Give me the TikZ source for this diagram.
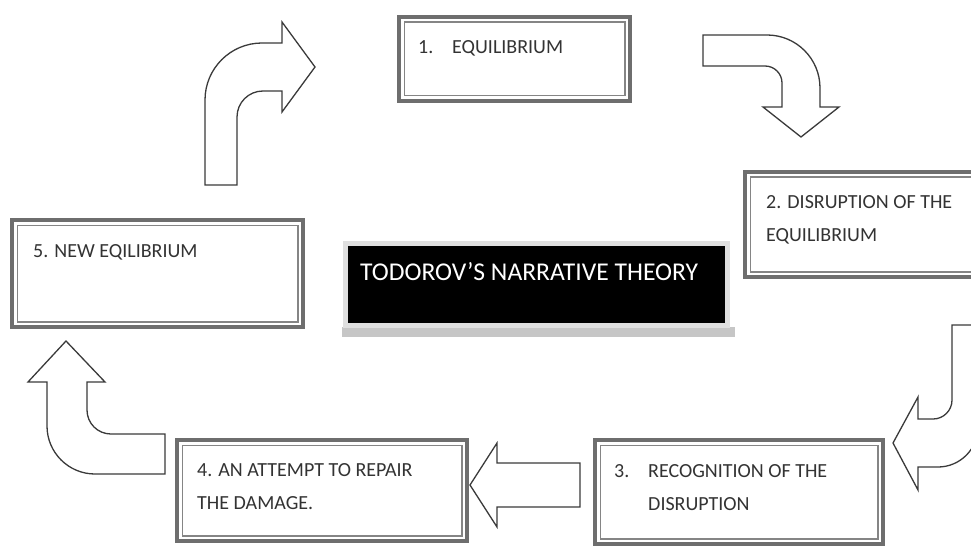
\documentclass[tikz,border=0pt]{standalone}
\usepackage{fontspec}
\setmainfont{Carlito}
\usepackage{tikz}
\usetikzlibrary{positioning}

\definecolor{framegray}{HTML}{6E6E6E}
\definecolor{linegray}{HTML}{858585}
\definecolor{arrowline}{HTML}{3A3A3A}

\begin{document}
\begin{tikzpicture}[
    x=1pt, y=-1pt,
    stagebox/.style={rectangle, draw=linegray, line width=1.5pt, fill=white,
                     inner sep=0pt, outer sep=0pt, anchor=north west},
    frame/.style={draw=framegray, line width=4pt},
    stagetext/.style={anchor=base west, inner sep=0pt, align=left,
                      text=black!80, font=\fontsize{20}{33}\selectfont},
    titlebox/.style={rectangle, fill=black, draw=gray!25, line width=5pt,
                     inner sep=0pt, outer sep=0pt, anchor=north west},
    titletext/.style={anchor=base west, inner sep=0pt, text=white,
                      font=\fontsize{25.6}{30}\selectfont},
    blockarrow/.style={draw=arrowline, line width=1.3pt, fill=white, line join=miter}
]
\useasboundingbox (0,0) rectangle (971,548);

% stage boxes
\node[stagebox, minimum width=220.5pt, minimum height=73.5pt] (s1) at (404.25,22.25) {};
\node[stagebox, minimum width=232.5pt, minimum height=94.5pt] (s2) at (750.25,177.25) {};
\node[stagebox, minimum width=277.5pt, minimum height=93.5pt] (s3) at (600.25,445.25) {};
\node[stagebox, minimum width=279.5pt, minimum height=90.5pt] (s4) at (182.25,445.25) {};
\node[stagebox, minimum width=280.5pt, minimum height=96.5pt] (s5) at (17.25,225.25) {};
\foreach \b in {s1,s2,s3,s4,s5}
  \draw[frame] ([xshift=-5.25pt,yshift=5.25pt]\b.north west) rectangle ([xshift=5.25pt,yshift=-5.25pt]\b.south east);

% texts (base = last line)
\node[stagetext] (n1) at (418,54) {1.};
\node[stagetext] (t1) at (452,54) {EQUILIBRIUM};
\node[stagetext] (t2) at (766,241) {2. DISRUPTION OF THE\\EQUILIBRIUM};
\node[stagetext] (n3) at (614,477) {3.};
\node[stagetext] (t3) at (648,510) {RECOGNITION OF THE\\DISRUPTION};
\node[stagetext] (t4) at (197,509) {4. AN ATTEMPT TO REPAIR\\THE DAMAGE.};
\node[stagetext] (t5) at (33,257) {5. NEW EQILIBRIUM};

% title
\fill[gray!45] (342,327) rectangle (735,337);
\node[titlebox, minimum width=382pt, minimum height=82pt] (title) at (345,243) {};
\node[titletext] (tt) at (360,280) {TODOROV’S NARRATIVE THEORY};

% block arrows
\draw[blockarrow] (205,185) -- (205,100) .. controls (205,68.5) and (230.5,43) .. (262,43)
  -- (282,43) -- (282,22) -- (315,67) -- (282,112) -- (282,91) -- (263,91)
  .. controls (248.6,91) and (237,102.6) .. (237,117) -- (237,185) -- cycle;
\draw[blockarrow] (703,35) -- (767,35) .. controls (796.3,35) and (820,58.7) .. (820,88)
  -- (820,107) -- (839,107) -- (801,137) -- (763,107) -- (782,107) -- (782,83)
  .. controls (782,73.6) and (774.4,66) .. (765,66) -- (703,66) -- cycle;
\draw[blockarrow] (952,325) -- (978,325) -- (978,427) .. controls (978,449) and (960,467) .. (938,467)
  -- (918,467) -- (918,490) -- (893,443) -- (918,397) -- (918,419) -- (933,419)
  .. controls (943.5,419) and (952,410.5) .. (952,400) -- cycle;
\draw[blockarrow] (580,463) -- (497,463) -- (497,443) -- (470,485) -- (497,527) -- (497,507)
  -- (580,507) -- cycle;
\draw[blockarrow] (165,474) -- (95,474) .. controls (68.5,474) and (47,452.5) .. (47,426)
  -- (47,382) -- (28,382) -- (66,341) -- (105,382) -- (87,382) -- (87,410)
  .. controls (87,423.3) and (97.7,434) .. (111,434) -- (165,434) -- cycle;
\end{tikzpicture}
\end{document}
